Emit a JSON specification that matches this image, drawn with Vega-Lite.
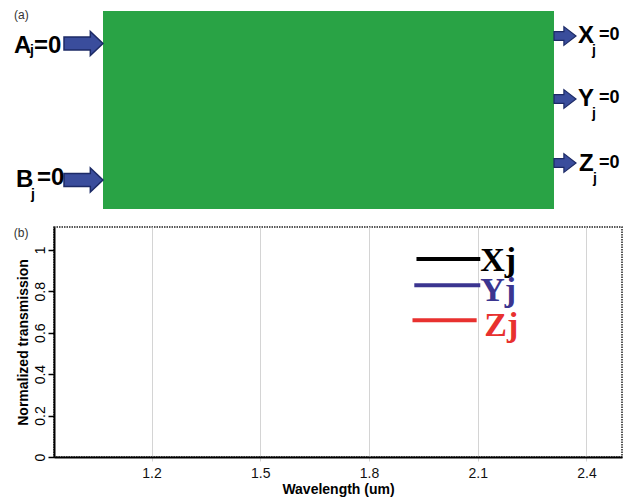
{
  "$schema": "https://vega.github.io/schema/vega-lite/v6.json",
  "padding": {"left": 13, "top": 0, "right": 0, "bottom": 0},
  "autosize": {"type": "pad"},
  "spacing": 11,
  "background": "white",
  "config": {"font": "Liberation Sans", "view": {"stroke": null}},
  "vconcat": [
    {
      "width": 570,
      "height": 215,
      "layer": [
        {
          "data": {"values": [{"block": "device", "x0": 102, "x1": 553, "y0": 11, "y1": 209}]},
          "mark": {"type": "rect", "fill": "#29a345"},
          "encoding": {
            "x": {"field": "x0", "type": "quantitative", "scale": {"domain": [53, 623], "nice": false, "zero": false}, "axis": null},
            "x2": {"field": "x1"},
            "y": {"field": "y0", "type": "quantitative", "scale": {"domain": [0, 215], "nice": false, "zero": false, "reverse": true}, "axis": null},
            "y2": {"field": "y1"}
          }
        },
        {
          "data": {"values": [{"port": "A", "x": 82.5, "y": 43.5}, {"port": "B", "x": 82.5, "y": 180}]},
          "mark": {"type": "point", "shape": "M-1,-0.33L0.35,-0.33L0.35,-0.62L1,0L0.35,0.62L0.35,0.33L-1,0.33Z", "size": 1521, "filled": true, "fill": "#3a4d9c", "stroke": "#1c2a66", "strokeWidth": 1.5, "opacity": 1},
          "encoding": {
            "x": {"field": "x", "type": "quantitative"},
            "y": {"field": "y", "type": "quantitative"}
          }
        },
        {
          "data": {"values": [{"port": "X", "x": 564, "y": 36}, {"port": "Y", "x": 564, "y": 99}, {"port": "Z", "x": 564, "y": 163}]},
          "mark": {"type": "point", "shape": "M-1,-0.4L-0.1,-0.4L-0.1,-0.85L1,0L-0.1,0.85L-0.1,0.4L-1,0.4Z", "size": 484, "filled": true, "fill": "#3a4d9c", "stroke": "#1c2a66", "strokeWidth": 1.2, "opacity": 1},
          "encoding": {
            "x": {"field": "x", "type": "quantitative"},
            "y": {"field": "y", "type": "quantitative"}
          }
        },
        {
          "data": {"name": "labels", "values": [
            {"t": "(a)", "kind": "panel", "x": 13, "y": 19},
            {"t": "A", "kind": "letter", "x": 13, "y": 53},
            {"t": "B", "kind": "letter", "x": 15, "y": 187},
            {"t": "X", "kind": "letter", "x": 577, "y": 43},
            {"t": "Y", "kind": "letter", "x": 577, "y": 106},
            {"t": "Z", "kind": "letter", "x": 578, "y": 171},
            {"t": "j", "kind": "sub", "x": 29, "y": 55},
            {"t": "j", "kind": "sub", "x": 30, "y": 199},
            {"t": "j", "kind": "sub", "x": 591, "y": 55},
            {"t": "j", "kind": "sub", "x": 591, "y": 118},
            {"t": "j", "kind": "sub", "x": 592, "y": 183},
            {"t": "=0", "kind": "in", "x": 33, "y": 53},
            {"t": "=0", "kind": "in", "x": 36, "y": 185},
            {"t": "=0", "kind": "out", "x": 598, "y": 40},
            {"t": "=0", "kind": "out", "x": 598, "y": 103},
            {"t": "=0", "kind": "out", "x": 598, "y": 168}
          ]},
          "layer": [
            {
              "transform": [{"filter": "datum.kind == 'panel'"}],
              "mark": {"type": "text", "align": "left", "baseline": "alphabetic", "fontSize": 12, "color": "#333333"},
              "encoding": {"x": {"field": "x", "type": "quantitative"}, "y": {"field": "y", "type": "quantitative"}, "text": {"field": "t"}}
            },
            {
              "transform": [{"filter": "datum.kind == 'letter' || datum.kind == 'in'"}],
              "mark": {"type": "text", "align": "left", "baseline": "alphabetic", "fontSize": 24, "fontWeight": "bold", "color": "#000000"},
              "encoding": {"x": {"field": "x", "type": "quantitative"}, "y": {"field": "y", "type": "quantitative"}, "text": {"field": "t"}}
            },
            {
              "transform": [{"filter": "datum.kind == 'sub'"}],
              "mark": {"type": "text", "align": "left", "baseline": "alphabetic", "fontSize": 14, "fontWeight": "bold", "color": "#000000"},
              "encoding": {"x": {"field": "x", "type": "quantitative"}, "y": {"field": "y", "type": "quantitative"}, "text": {"field": "t"}}
            },
            {
              "transform": [{"filter": "datum.kind == 'out'"}],
              "mark": {"type": "text", "align": "left", "baseline": "alphabetic", "fontSize": 18, "fontWeight": "bold", "color": "#000000"},
              "encoding": {"x": {"field": "x", "type": "quantitative"}, "y": {"field": "y", "type": "quantitative"}, "text": {"field": "t"}}
            }
          ]
        }
      ]
    },
    {
      "width": 568,
      "height": 230,
      "view": {"stroke": "#222222", "strokeDash": [1.5, 1], "strokeWidth": 1.5},
      "data": {"values": [
        {"series": "Xj", "x0": 1.931, "x1": 2.107, "y": 0.955, "tx": 2.107, "ty": 0.897},
        {"series": "Yj", "x0": 1.925, "x1": 2.107, "y": 0.829, "tx": 2.107, "ty": 0.752},
        {"series": "Zj", "x0": 1.92, "x1": 2.097, "y": 0.66, "tx": 2.118, "ty": 0.583}
      ]},
      "layer": [
        {
          "mark": {"type": "rule", "strokeWidth": 4},
          "encoding": {
            "x": {"field": "x0", "type": "quantitative",
              "scale": {"domain": [0.931, 2.498], "nice": false, "zero": false},
              "axis": {"title": "Wavelength (um)", "values": [1.2, 1.5, 1.8, 2.1, 2.4], "format": ".1f", "grid": true, "gridColor": "#d4d4d4", "gridWidth": 1, "tickSize": 4, "tickColor": "#d4d4d4", "labelFontSize": 14, "labelColor": "#111111", "labelPadding": 5, "labelFont": "Liberation Sans", "domainColor": "#000000", "domainWidth": 2, "titleFont": "Liberation Sans", "titleFontSize": 14, "titleFontWeight": "bold", "titleColor": "#000000", "titlePadding": 2}},
            "x2": {"field": "x1"},
            "y": {"field": "y", "type": "quantitative",
              "scale": {"domain": [0, 1.11], "nice": false, "zero": false},
              "axis": {"title": "Normalized transmission", "values": [0, 0.2, 0.4, 0.6, 0.8, 1], "format": "~g", "grid": false, "labelAngle": -90, "labelAlign": "center", "labelBaseline": "bottom", "labelFontSize": 14, "labelColor": "#000000", "labelPadding": 1, "labelFont": "Liberation Sans", "tickSize": 6, "tickColor": "#000000", "tickWidth": 1.5, "domainColor": "#000000", "domainWidth": 2, "titleFont": "Liberation Sans", "titleFontSize": 14, "titleFontWeight": "bold", "titleColor": "#000000", "titlePadding": 3}},
            "color": {"field": "series", "type": "nominal", "scale": {"domain": ["Xj", "Yj", "Zj"], "range": ["#000000", "#3b3590", "#e8312f"]}, "legend": null}
          }
        },
        {
          "mark": {"type": "text", "font": "Liberation Serif", "fontWeight": "bold", "fontSize": 34, "align": "left", "baseline": "alphabetic"},
          "encoding": {
            "x": {"field": "tx", "type": "quantitative"},
            "y": {"field": "ty", "type": "quantitative"},
            "text": {"field": "series"},
            "color": {"field": "series", "type": "nominal"}
          }
        },
        {
          "data": {"values": [{"label": "(b)", "x": 0.82, "y": 1.105}]},
          "mark": {"type": "text", "align": "left", "baseline": "top", "fontSize": 12, "color": "#333333"},
          "encoding": {
            "x": {"field": "x", "type": "quantitative"},
            "y": {"field": "y", "type": "quantitative"},
            "text": {"field": "label"}
          }
        }
      ]
    }
  ]
}
